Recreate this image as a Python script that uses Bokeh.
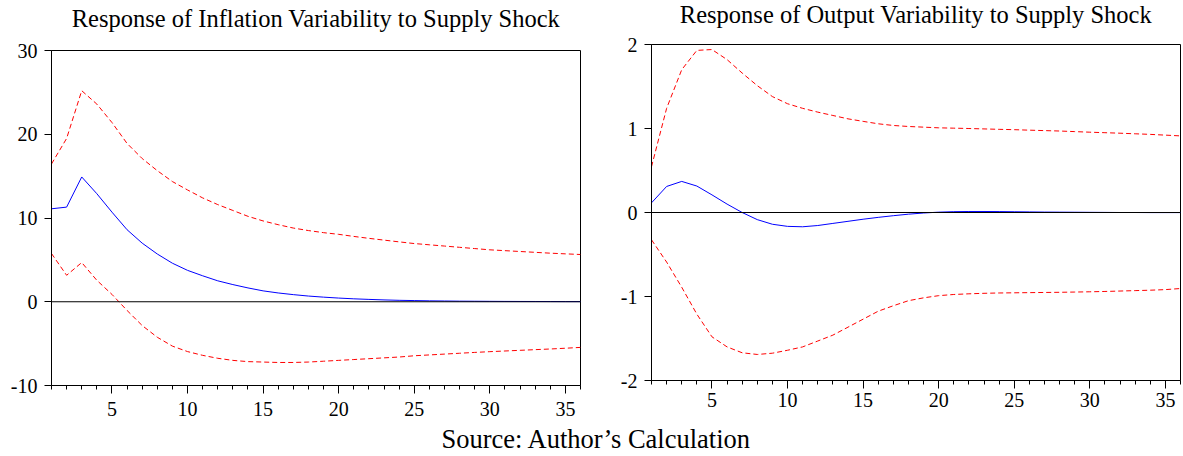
from bokeh.plotting import figure
from bokeh.layouts import column, row
from bokeh.models import FixedTicker, Span, Range1d, Label, Spacer
from bokeh.embed import file_html
from bokeh.resources import INLINE

periods = list(range(1, 37))

infl_resp = [11.1, 11.3, 14.9, 12.9, 10.7, 8.6, 7.0, 5.7, 4.6, 3.75, 3.1, 2.5, 2.05, 1.65,
             1.3, 1.05, 0.85, 0.68, 0.55, 0.44, 0.35, 0.28, 0.22, 0.17, 0.14, 0.11, 0.09,
             0.07, 0.06, 0.05, 0.04, 0.035, 0.03, 0.025, 0.02, 0.02]
infl_upper = [16.45, 19.5, 25.2, 23.6, 21.4, 18.9, 17.1, 15.65, 14.35, 13.35, 12.4, 11.6,
              10.9, 10.2, 9.65, 9.2, 8.8, 8.5, 8.25, 8.05, 7.8, 7.57, 7.36, 7.15, 6.95, 6.8,
              6.65, 6.5, 6.35, 6.2, 6.1, 6.0, 5.9, 5.8, 5.72, 5.64]
infl_lower = [5.76, 3.16, 4.68, 2.56, 0.88, -1.04, -2.84, -4.24, -5.3, -5.95, -6.4, -6.75,
              -7.0, -7.15, -7.2, -7.25, -7.25, -7.2, -7.1, -7.0, -6.9, -6.8, -6.7, -6.6,
              -6.45, -6.35, -6.25, -6.15, -6.05, -5.96, -5.88, -5.8, -5.72, -5.64, -5.55, -5.45]

out_resp = [0.115, 0.31, 0.37, 0.315, 0.21, 0.10, 0.0, -0.085, -0.14, -0.165, -0.17, -0.155,
            -0.13, -0.105, -0.08, -0.058, -0.038, -0.02, -0.006, 0.004, 0.01, 0.012, 0.012,
            0.011, 0.009, 0.007, 0.005, 0.004, 0.003, 0.002, 0.001, 0.0, 0.0, -0.001,
            -0.001, -0.001]
out_upper = [0.545, 1.24, 1.70, 1.93, 1.94, 1.82, 1.66, 1.51, 1.38, 1.295, 1.24, 1.195,
             1.155, 1.115, 1.085, 1.056, 1.036, 1.024, 1.016, 1.008, 1.004, 1.0, 0.995, 0.99,
             0.986, 0.98, 0.975, 0.97, 0.963, 0.956, 0.95, 0.944, 0.937, 0.93, 0.921, 0.912]
out_lower = [-0.325, -0.59, -0.89, -1.21, -1.48, -1.60, -1.67, -1.69, -1.675, -1.64, -1.60,
             -1.53, -1.46, -1.365, -1.27, -1.175, -1.11, -1.05, -1.016, -0.99, -0.976,
             -0.968, -0.962, -0.958, -0.956, -0.954, -0.952, -0.95, -0.947, -0.944, -0.94,
             -0.935, -0.93, -0.925, -0.918, -0.905]

x_major = [5, 10, 15, 20, 25, 30, 35]
infl_ticks = [-10, 0, 10, 20, 30]
out_ticks = [-2, -1, 0, 1, 2]

titles = ["Response of Inflation Variability to Supply Shock",
          "Response of Output Variability to Supply Shock"]
source_text = "Source: Author\u2019s Calculation"

FONT = "Liberation Serif"
TITLE_H = 34


def make_panel(resp, upper, lower, yticks, width, height, borders, xstand):
    p = figure(width=width, height=height, output_backend="svg", toolbar_location=None,
               x_range=Range1d(1, 36), y_range=Range1d(yticks[0], yticks[-1]),
               min_border_left=borders[0], min_border_right=borders[1],
               min_border_top=borders[2], min_border_bottom=borders[3], title=None)
    p.grid.visible = False
    p.outline_line_color = "black"
    p.outline_line_width = 1
    p.background_fill_color = "white"
    p.border_fill_color = "white"

    xa = p.xaxis[0]
    xa.ticker = FixedTicker(ticks=x_major, minor_ticks=periods)
    xa.major_tick_out = 8
    xa.major_tick_in = 0
    xa.minor_tick_out = 4
    xa.minor_tick_in = 0
    xa.major_label_standoff = xstand
    ya = p.yaxis[0]
    ya.ticker = FixedTicker(ticks=yticks, minor_ticks=[])
    ya.major_tick_out = 7
    ya.major_tick_in = 0
    ya.minor_tick_out = 0
    ya.major_label_standoff = 7
    ya.major_label_overrides = {t: str(t) for t in yticks}
    for ax in (xa, ya):
        ax.axis_line_color = "black"
        ax.major_tick_line_color = "black"
        ax.minor_tick_line_color = "black"
        ax.major_label_text_font = FONT
        ax.major_label_text_font_size = "20px"
        ax.major_label_text_color = "black"

    p.add_layout(Span(location=0, dimension="width", line_color="black", line_width=1))
    p.line(periods, upper, line_color="#FF0000", line_width=1, line_dash="5 3")
    p.line(periods, lower, line_color="#FF0000", line_width=1, line_dash="5 3")
    p.line(periods, resp, line_color="#0000FF", line_width=1)
    return p


def text_strip(height):
    s = figure(width=1183, height=height, output_backend="svg", toolbar_location=None,
               x_range=Range1d(0, 1183), y_range=Range1d(0, height),
               min_border=0, outline_line_color=None, title=None,
               x_axis_location=None, y_axis_location=None)
    s.grid.visible = False
    return s


# left panel: page frame x 51..580, y 50..385 ; right panel: x 651..1180, y 44..380
p1 = make_panel(infl_resp, infl_upper, infl_lower, infl_ticks,
                600, 382, (51, 20, 10, 37), 8)
p2 = make_panel(out_resp, out_upper, out_lower, out_ticks,
                583, 391, (51, 3, 10, 45), 4)

# strip holding the two panel titles (text centres at page y 18.3 and 13.8)
pt = text_strip(TITLE_H)
title_x = [(51 + 580) / 2, 600 + (51 + 583 - 3) / 2]
title_y = [TITLE_H - 18.3, TITLE_H - 13.8]
for t, tx, ty in zip(titles, title_x, title_y):
    pt.add_layout(Label(x=tx, y=ty, text=t, text_align="center",
                        text_baseline="middle", text_font=FONT,
                        text_font_size="24.5px", text_color="black"))

# strip holding the source note
ps = text_strip(31)
ps.add_layout(Label(x=596, y=18, text=source_text, text_align="center",
                    text_baseline="middle", text_font=FONT, text_font_size="26.5px",
                    text_color="black"))

layout = column(pt, row(column(Spacer(width=600, height=6), p1), p2), ps)
open("out.html", "w").write(file_html(layout, INLINE))
